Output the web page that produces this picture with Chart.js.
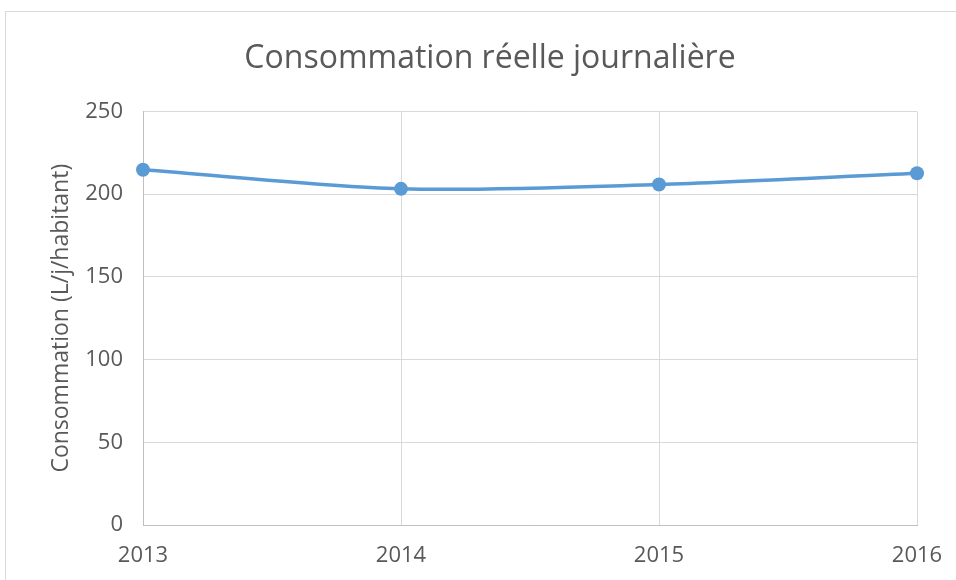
<!DOCTYPE html>
<html>
<head>
<meta charset="utf-8">
<script src="https://cdn.jsdelivr.net/npm/chart.js@4"></script>
<style>
  body { margin: 0; background: #fff; }
  #wrap { position: relative; width: 956px; height: 580px; overflow: hidden; }
  #frame {
    position: absolute; left: 5px; top: 11px; width: 1000px; height: 620px;
    border: 1px solid #d9d9d9; pointer-events: none;
  }
</style>
</head>
<body>
<div id="wrap">
  <canvas id="myChart" width="956" height="580"></canvas>
  <div id="frame"></div>
</div>
<script>
// donnees
const years = ["2013", "2014", "2015", "2016"];
const consommation = [214.7, 203.2, 205.8, 212.6];
const yTicks = [0, 50, 100, 150, 200, 250];

const textColor = "#595959";
const fontFamily = "'Open Sans', sans-serif";

let ctx = document.getElementById("myChart").getContext("2d");
let chart = new Chart(ctx, {
  type: "line",
  data: {
    labels: years,
    datasets: [
      {
        label: "Consommation",
        data: consommation,
        borderColor: "#5b9bd5",
        backgroundColor: "#5b9bd5",
        borderWidth: 3.5,
        pointRadius: 7,
        pointBorderWidth: 0,
        tension: 0.3,
        fill: false,
      },
    ],
  },
  options: {
    responsive: false,
    animation: false,
    layout: { padding: { left: 24, right: 0, top: 0, bottom: 0 } },
    plugins: {
      legend: { display: false },
      tooltip: { enabled: false },
      title: {
        display: true,
        text: "Consommation réelle journalière",
        color: textColor,
        font: { family: fontFamily, size: 32, weight: "normal" },
        padding: { top: 40, bottom: 33 },
      },
    },
    scales: {
      x: {
        type: "category",
        offset: false,
        grid: { color: "#d9d9d9", drawTicks: false },
        border: { color: "#bfbfbf", width: 1 },
        ticks: {
          color: textColor,
          font: { family: fontFamily, size: 22 },
          padding: 18,
          maxRotation: 0,
        },
        afterFit: function (scale) {
          scale.height = 55;
          scale.paddingRight = 39;
        },
      },
      y: {
        min: 0,
        max: 250,
        afterBuildTicks: function (scale) {
          scale.ticks = yTicks.map(function (v) {
            return { value: v };
          });
        },
        grid: { color: "#d9d9d9", drawTicks: false },
        border: { color: "#bfbfbf", width: 1 },
        ticks: {
          color: textColor,
          font: { family: fontFamily, size: 22 },
          padding: 20,
        },
        title: {
          display: true,
          text: "Consommation (L/j/habitant)",
          color: textColor,
          font: { family: fontFamily, size: 23 },
          padding: { top: 24, bottom: 0 },
        },
        afterFit: function (scale) {
          scale.width = 119;
        },
      },
    },
  },
});
</script>
</body>
</html>
